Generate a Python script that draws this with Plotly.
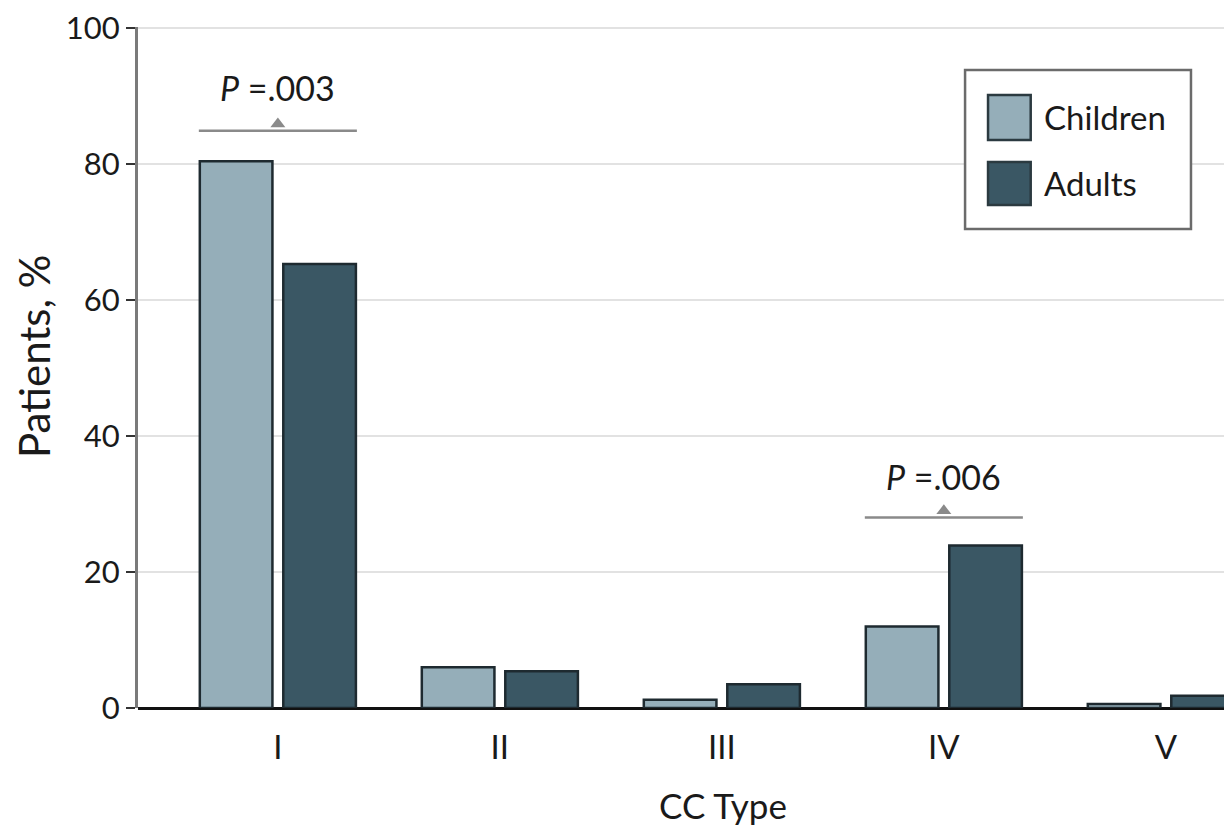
import plotly.graph_objects as go

categories = ["I", "II", "III", "IV", "V"]
children = [80.4, 6.0, 1.2, 12.0, 0.6]
adults = [65.3, 5.4, 3.5, 23.9, 1.8]
y_ticks = [0, 20, 40, 60, 80, 100]
p_labels = ["<i>P</i> =.003", "<i>P</i> =.006"]
p_cats = [0, 3]
p_line_y = [84.9, 28.0]
p_text_y = [91.3, 34.1]

C_CHILD = "#95aeb9"
C_ADULT = "#3a5764"
EDGE = "#1e2a30"
FONT = "Lato"

xs = list(range(len(categories)))
fig = go.Figure()
fig.add_trace(go.Bar(x=xs, y=children, name="Children", marker=dict(color=C_CHILD, line=dict(color=EDGE, width=2.5))))
fig.add_trace(go.Bar(x=xs, y=adults, name="Adults", marker=dict(color=C_ADULT, line=dict(color=EDGE, width=2.5))))

for cat, lab, ly, ty in zip(p_cats, p_labels, p_line_y, p_text_y):
    fig.add_shape(type="line", xref="x", yref="y", x0=cat - 0.356, x1=cat + 0.356, y0=ly, y1=ly,
                  line=dict(color="#8a8a8a", width=2.5))
    fig.add_annotation(x=cat, y=ty, xref="x", yref="y", text=lab, showarrow=False,
                       font=dict(family=FONT, size=34, color="#1a1a1a"))
fig.add_trace(go.Scatter(x=p_cats, y=[y + 1.0 for y in p_line_y], mode="markers",
                         marker=dict(symbol="triangle-up", size=13, color="#8a8a8a"),
                         showlegend=False, hoverinfo="skip"))

# custom legend
fig.add_shape(type="rect", xref="paper", yref="paper", x0=0.756, x1=0.9625, y0=0.7034, y1=0.9369,
              line=dict(color="#6b6b6b", width=2.5), fillcolor="white", layer="above")
legend_items = [("Children", C_CHILD, 0.8341, 0.9001, 0.8678), ("Adults", C_ADULT, 0.7386, 0.8018, 0.7709)]
for name, col, y0, y1, yt in legend_items:
    fig.add_shape(type="rect", xref="paper", yref="paper", x0=0.777, x1=0.816, y0=y0, y1=y1,
                  line=dict(color="#2b3a40", width=2.5), fillcolor=col, layer="above")
    fig.add_annotation(xref="paper", yref="paper", x=0.826, y=yt, text=name, showarrow=False,
                       xanchor="left", yanchor="middle", font=dict(family=FONT, size=33, color="#1a1a1a"))

# axis titles (placed as annotations; the original plot area extends past the right edge)
fig.add_annotation(xref="paper", yref="paper", x=0.5347, y=-0.1424, text="CC Type", showarrow=False,
                   xanchor="center", yanchor="middle", font=dict(family=FONT, size=35, color="#1a1a1a"))
fig.add_annotation(xref="paper", yref="paper", x=-0.095, y=0.5169, text="Patients, %", showarrow=False,
                   textangle=-90, xanchor="center", yanchor="middle",
                   font=dict(family=FONT, size=42, color="#1a1a1a"))

fig.update_layout(
    width=1224, height=818,
    margin=dict(l=130, r=0, t=19, b=118, autoexpand=False),
    plot_bgcolor="white", paper_bgcolor="white",
    barmode="group", bargap=0.248, bargroupgap=0.13,
    showlegend=False,
    font=dict(family=FONT, size=31, color="#1a1a1a"),
)
fig.update_xaxes(range=[-0.63, 4.298], tickvals=xs, ticktext=categories, showgrid=False,
                 zeroline=False, showline=False, ticks="", ticklabelstandoff=17,
                 automargin=False, tickfont=dict(size=33))
fig.update_yaxes(range=[0, 100.15], tickvals=y_ticks, showgrid=True, gridcolor="#e2e2e2", gridwidth=2,
                 zeroline=True, zerolinecolor="#111111", zerolinewidth=3,
                 showline=True, linecolor="#7a7a7a", linewidth=3,
                 ticks="outside", ticklen=9, tickwidth=2, tickcolor="#333333",
                 ticklabeloverflow="allow", automargin=False,
                 tickfont=dict(size=31))

fig.write_html("out.html")
